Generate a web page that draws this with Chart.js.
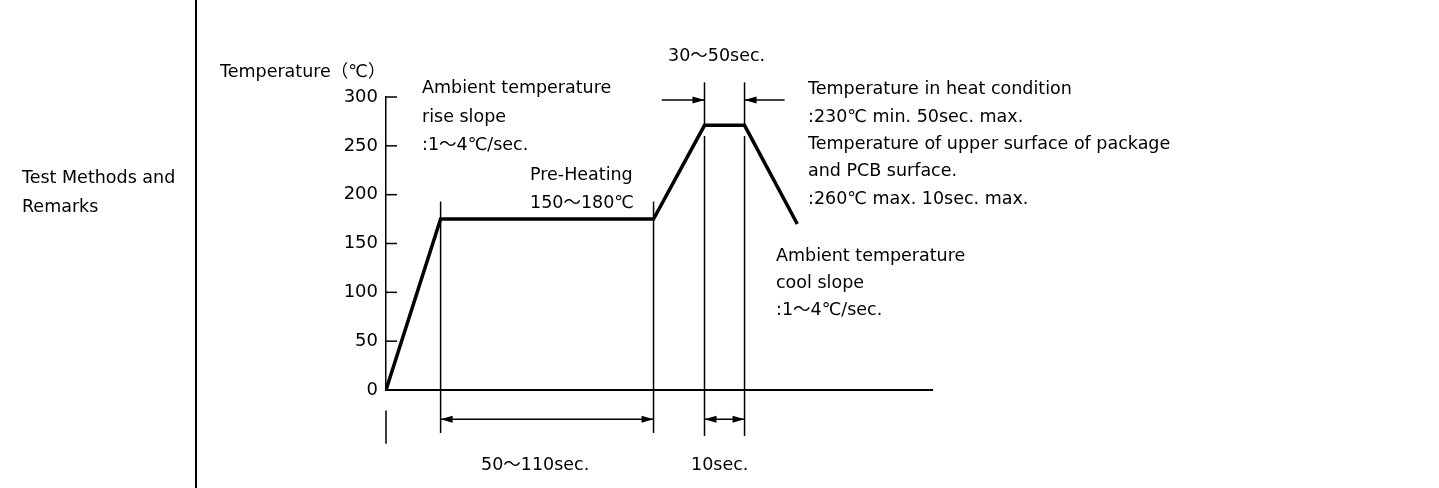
<!DOCTYPE html>
<html>
<head>
<meta charset="utf-8">
<script src="https://cdn.jsdelivr.net/npm/chart.js@4/dist/chart.umd.min.js"></script>
<style>
body { margin: 0; background: #fff; }
#wrap { width: 1439px; height: 488px; position: relative; }
</style>
</head>
<body>
<div id="wrap"><canvas id="reflowChart"></canvas></div>
<script>
// reflow profile (schematic): time axis in arbitrary units, temperature in deg C
var profileTime = [0, 30, 147, 175, 197, 226];
var profileTemp = [0, 175, 175, 271, 271, 170];
var tempTicks = [0, 50, 100, 150, 200, 250, 300];
var markTime = [0, 30, 147, 175, 197];

var FONT = '"DejaVu Sans", "Noto Sans CJK JP", sans-serif';

var annotations = {
    id: 'annotations',
    afterDraw: function (chart) {
        var ctx = chart.ctx;
        var xs = chart.scales.x, ys = chart.scales.y;
        var X = function (v) { return xs.getPixelForValue(v); };
        var Y = function (v) { return ys.getPixelForValue(v); };
        ctx.save();
        ctx.strokeStyle = '#000';
        ctx.fillStyle = '#000';

        // table border
        ctx.lineWidth = 2;
        ctx.beginPath();
        ctx.moveTo(196, 0); ctx.lineTo(196, 488);
        ctx.stroke();

        // inward tick marks on temperature axis
        ctx.lineWidth = 1.5;
        tempTicks.forEach(function (t) {
            if (t === 0) return;
            ctx.beginPath();
            ctx.moveTo(X(0), Y(t));
            ctx.lineTo(X(0) + 11, Y(t));
            ctx.stroke();
        });

        function vline(t, a, b) {
            ctx.beginPath();
            ctx.moveTo(X(t), Y(a));
            ctx.lineTo(X(t), Y(b));
            ctx.stroke();
        }
        function head(x, y, dir) {
            ctx.beginPath();
            ctx.moveTo(x, y);
            ctx.lineTo(x - dir * 12, y - 3.5);
            ctx.lineTo(x - dir * 12, y + 3.5);
            ctx.closePath();
            ctx.fill();
        }
        function hline(t1, t2, v) {
            ctx.beginPath();
            ctx.moveTo(X(t1), Y(v));
            ctx.lineTo(X(t2), Y(v));
            ctx.stroke();
        }

        ctx.lineWidth = 1.5;
        // dimension lines
        vline(markTime[0], -21, -55);
        vline(markTime[1], 193, -44);
        vline(markTime[2], 193, -44);
        vline(markTime[3], 315, 271);
        vline(markTime[3], 260, -47);
        vline(markTime[4], 315, 271);
        vline(markTime[4], 260, -47);

        // 50~110 sec double arrow
        hline(markTime[1], markTime[2], -30);
        head(X(markTime[2]), Y(-30), 1);
        head(X(markTime[1]), Y(-30), -1);
        // 10 sec double arrow
        hline(markTime[3], markTime[4], -30);
        head(X(markTime[4]), Y(-30), 1);
        head(X(markTime[3]), Y(-30), -1);
        // 30~50 sec inward arrows
        hline(151.5, markTime[3], 297);
        head(X(markTime[3]), Y(297), 1);
        hline(219, markTime[4], 297);
        head(X(markTime[4]), Y(297), -1);

        // texts
        ctx.textBaseline = 'middle';
        ctx.textAlign = 'left';
        ctx.font = '17.5px ' + FONT;
        ctx.fillText('Test Methods and', 22, 178);
        ctx.fillText('Remarks', 22, 207);

        var notes = [
            ['Temperature（℃）', 220, 72],
            ['Ambient temperature', 422, 88],
            ['rise slope', 422, 117],
            [':1～4℃/sec.', 422, 145],
            ['Pre-Heating', 530, 175],
            ['150～180℃', 530, 203],
            ['30～50sec.', 668, 56],
            ['Temperature in heat condition', 808, 89],
            [':230℃ min. 50sec. max.', 808, 117],
            ['Temperature of upper surface of package', 808, 144],
            ['and PCB surface.', 808, 171],
            [':260℃ max. 10sec. max.', 808, 199],
            ['Ambient temperature', 776, 256],
            ['cool slope', 776, 283],
            [':1～4℃/sec.', 776, 310],
            ['50～110sec.', 481, 465],
            ['10sec.', 691, 465]
        ];
        notes.forEach(function (n) { ctx.fillText(n[0], n[1], n[2]); });
        ctx.restore();
    }
};

var points = profileTime.map(function (t, i) { return { x: t, y: profileTemp[i] }; });

new Chart(document.getElementById('reflowChart'), {
    type: 'line',
    data: {
        datasets: [{
            label: 'Reflow profile',
            data: points,
            borderColor: '#000',
            borderWidth: 3.5,
            pointRadius: 0,
            tension: 0,
            fill: false,
            borderJoinStyle: 'miter'
        }]
    },
    options: {
        responsive: true,
        maintainAspectRatio: false,
        animation: false,
        layout: { padding: { left: 300, right: 507, top: 97, bottom: 0 } },
        plugins: { legend: { display: false }, tooltip: { enabled: false } },
        scales: {
            x: {
                type: 'linear',
                min: 0,
                max: 300,
                grid: { display: false, drawTicks: false },
                border: { display: true, color: '#000', width: 2 },
                ticks: { display: false },
                afterFit: function (scale) { scale.height = 98; }
            },
            y: {
                type: 'linear',
                min: 0,
                max: 300,
                afterBuildTicks: function (scale) {
                    scale.ticks = tempTicks.map(function (v) { return { value: v }; });
                },
                grid: { display: false, drawTicks: false },
                border: { display: true, color: '#000', width: 1.5 },
                ticks: {
                    color: '#000',
                    padding: 8,
                    font: { size: 18, family: FONT }
                },
                afterFit: function (scale) { scale.width = 86; }
            }
        }
    },
    plugins: [annotations]
});
</script>
</body>
</html>
